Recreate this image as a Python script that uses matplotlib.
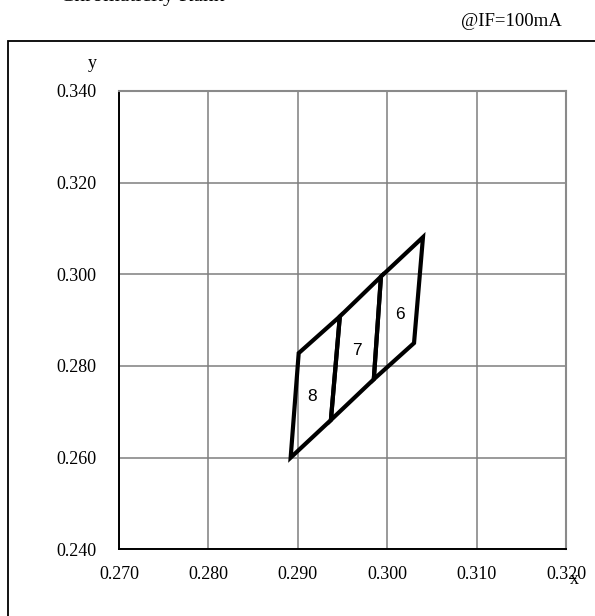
import matplotlib
matplotlib.use("Agg")
import matplotlib.pyplot as plt
from matplotlib.patches import Rectangle

# rank labels and corner points (x, y) of each region
rank_names = ["6", "7", "8"]
rank_6_x = [0.2985, 0.2993, 0.3040, 0.3030]
rank_6_y = [0.2771, 0.2995, 0.3081, 0.2850]
rank_7_x = [0.2937, 0.2947, 0.2993, 0.2985]
rank_7_y = [0.2682, 0.2908, 0.2995, 0.2771]
rank_8_x = [0.2892, 0.2901, 0.2947, 0.2937]
rank_8_y = [0.2600, 0.2828, 0.2908, 0.2682]
label_x = [0.3014, 0.2966, 0.2916]
label_y = [0.2912, 0.2833, 0.2733]

x_ticks = [0.270, 0.280, 0.290, 0.300, 0.310, 0.320]
y_ticks = [0.240, 0.260, 0.280, 0.300, 0.320, 0.340]

serif = "Liberation Serif"
sans = "Liberation Sans"


def plot_rank():
    fig = plt.figure(figsize=(5.95, 6.16), dpi=100)
    ax = fig.add_axes([0.2, 0.1083, 0.7513, 0.744])

    regions = [(rank_6_x, rank_6_y), (rank_7_x, rank_7_y), (rank_8_x, rank_8_y)]
    for (xs, ys), name, lx, ly in zip(regions, rank_names, label_x, label_y):
        ax.fill(xs, ys, facecolor="none", edgecolor="black", lw=3,
                joinstyle="miter", zorder=3)
        ax.text(lx, ly, name, ha="center", va="center", fontsize=12.5,
                family=sans, zorder=4)

    ax.set_xlim(x_ticks[0], x_ticks[-1])
    ax.set_ylim(y_ticks[0], y_ticks[-1])
    ax.set_xticks(x_ticks)
    ax.set_yticks(y_ticks)
    ax.set_xticklabels([f"{v:.3f}" for v in x_ticks], family=serif, fontsize=13)
    ax.set_yticklabels([f"{v:.3f}" for v in y_ticks], family=serif, fontsize=13)
    ax.tick_params(length=0, pad=0)
    ax.tick_params(axis="y", pad=16)
    ax.tick_params(axis="x", pad=12)
    ax.grid(True, color="#7f7f7f", lw=1.1)
    ax.set_axisbelow(True)

    for side in ["left", "bottom"]:
        ax.spines[side].set_color("black")
        ax.spines[side].set_linewidth(1.4)
    for side in ["top", "right"]:
        ax.spines[side].set_color("#8a8a8a")
        ax.spines[side].set_linewidth(1.5)

    # axis names placed like the original sheet
    fig.text(92.7 / 595, 1 - 63 / 616, "y", ha="center", va="center",
             family=serif, fontsize=13)
    fig.text(574 / 595, 1 - 579 / 616, "x", ha="center", va="center",
             family=serif, fontsize=13)

    # outer frame (cut off on the right and bottom)
    fig.add_artist(Rectangle((8 / 595, -0.1), 1.2, 1.0334,
                             transform=fig.transFigure, fill=False,
                             edgecolor="black", lw=1.3))

    fig.text(60 / 595, 1 - 1 / 616, "Chromaticity Rank", ha="left",
             va="baseline", family=serif, fontsize=15.5)
    fig.text(511.7 / 595, 1 - 21 / 616, "@IF=100mA", ha="center",
             va="center", family=serif, fontsize=13.5)

    fig.savefig("out.png", dpi=100)


if __name__ == "__main__":
    plot_rank()
